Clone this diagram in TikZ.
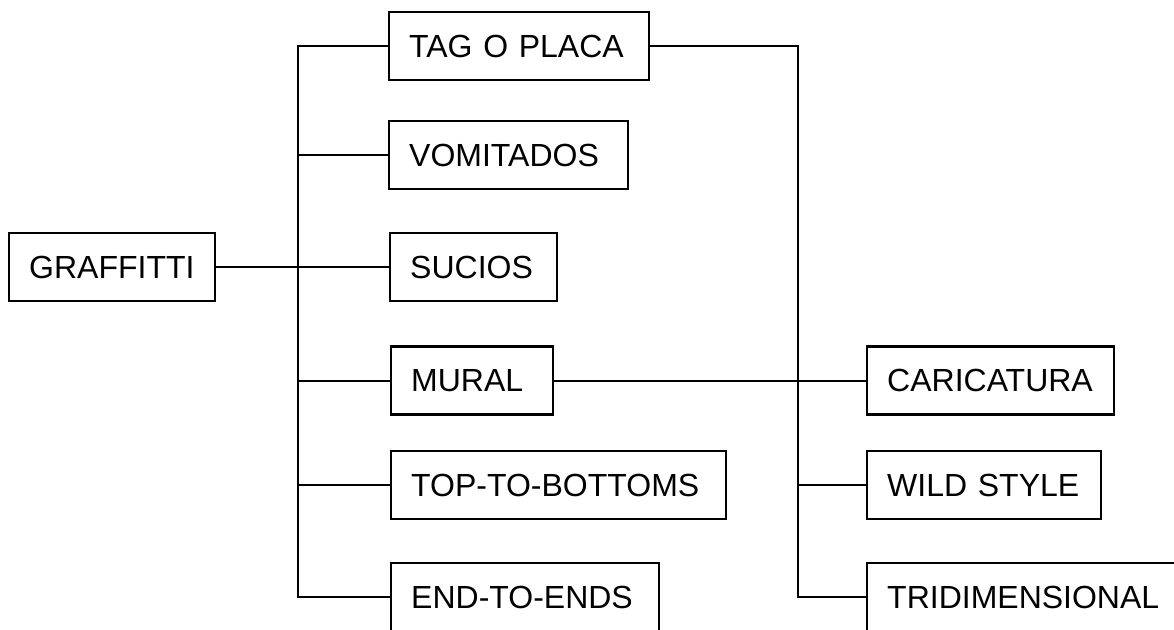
\documentclass[tikz,border=0pt]{standalone}
\usepackage{fontspec}
\setmainfont{Liberation Sans}

\tikzset{
  box/.style={draw, line width=1.2pt, anchor=west, minimum height=34pt,
    inner xsep=10pt, align=left, text width=#1,
    font=\fontsize{16}{19}\selectfont},
  link/.style={line width=1pt}
}

\begin{document}
\begin{tikzpicture}[x=0.5pt, y=-0.5pt]
 \useasboundingbox (0,0) rectangle (1174,629);
 \clip (0,0) rectangle (1174,629);

 \node[box=83pt] (graffiti) at (8,267) {GRAFFITTI};

 \node[box=110pt] (tag) at (388,46) {TAG O PLACA};
 \node[box=99.5pt] (vomitados) at (388,155) {VOMITADOS};
 \node[box=63.5pt] (sucios) at (389,267) {SUCIOS};
 \node[box=61pt] (mural) at (390,380.5) {MURAL};
 \node[box=147.5pt] (top) at (390,485) {TOP-TO-BOTTOMS};
 \node[box=114pt] (ends) at (390,597) {END-TO-ENDS};

 \node[box=103.5pt] (caricatura) at (866,380.5) {CARICATURA};
 \node[box=97pt] (wild) at (866,485) {WILD STYLE};
 \node[box=145pt] (tri) at (866,597) {TRIDIMENSIONAL};

 \coordinate (trunk) at (298,0);
 \coordinate (split) at (798,0);

 % first level
 \draw[link] (graffiti.east) -- (sucios.west);
 \draw[link] (tag.west) -- (tag.west -| trunk) -- (ends.west -| trunk) -- (ends.west);
 \foreach \n in {vomitados,mural,top}
  \draw[link] (\n.west) -- (\n.west -| trunk);

 % second level
 \draw[link] (mural.east) -- (caricatura.west);
 \draw[link] (tag.east) -- (tag.east -| split) -- (tri.west -| split) -- (tri.west);
 \draw[link] (wild.west) -- (wild.west -| split);
\end{tikzpicture}
\end{document}
